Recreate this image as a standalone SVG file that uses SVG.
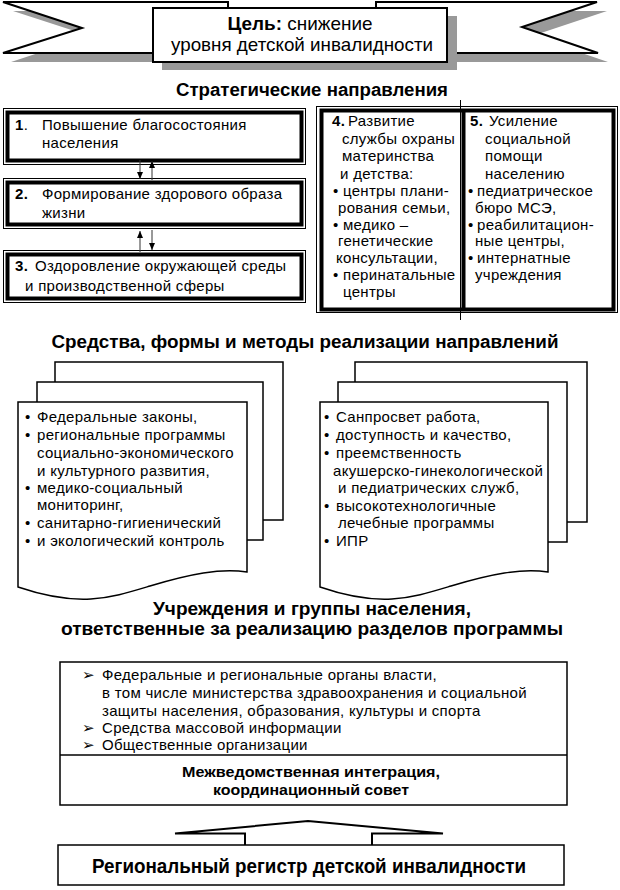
<svg xmlns="http://www.w3.org/2000/svg" width="620" height="890" viewBox="0 0 620 890">
<defs>
<style>
text{font-family:"Liberation Sans",Arial,sans-serif;fill:#000}
.t{font-size:15px;letter-spacing:0.3px}
.b{font-weight:bold}
.h{font-size:18px;font-weight:bold;text-anchor:middle}
.thin{fill:none;stroke:#000;stroke-width:1}
.thick{fill:none;stroke:#000;stroke-width:4}
.doc{fill:#fff;stroke:#000;stroke-width:1.5}
.sh{fill:#999}
.conn{stroke:#333;stroke-width:1;fill:none}
</style>
<marker id="ah" markerUnits="userSpaceOnUse" markerWidth="8" markerHeight="8" refX="7" refY="4" orient="auto">
<path d="M0,1 L7,4 L0,7 Z" fill="#000"/>
</marker>
</defs>
<rect width="620" height="890" fill="#fff"/>

<g id="goal">
<polygon class="sh" points="13,11 238,11 238,62 11,62 90,36"/>
<polygon class="sh" points="386,11 607,11 532,36 608,62 386,62"/>
<polygon points="3,2 228,2 228,53 3,53 82,28" fill="#fff" stroke="#000" stroke-width="2"/>
<polygon points="376,2 597,2 522,27 598,53 376,53" fill="#fff" stroke="#000" stroke-width="2"/>
<rect class="sh" x="162" y="16" width="295" height="54"/>
<rect x="153" y="8" width="294" height="54" fill="#fff" stroke="#000" stroke-width="2"/>
<text x="300" y="30" text-anchor="middle" font-size="19" textLength="145" lengthAdjust="spacingAndGlyphs"><tspan font-weight="bold">Цель:</tspan> снижение</text>
<text x="302" y="51" text-anchor="middle" font-size="19" textLength="262" lengthAdjust="spacingAndGlyphs">уровня детской инвалидности</text>
</g>

<text class="h" x="312" y="96" textLength="272" lengthAdjust="spacingAndGlyphs">Стратегические направления</text>

<g id="dir1">
<rect class="thin" x="3.5" y="108.5" width="302" height="56"/>
<rect class="thick" x="7.5" y="112.5" width="294" height="48"/>
<text class="t" x="15" y="130"><tspan class="b">1</tspan>.<tspan x="42">Повышение благосостояния</tspan></text>
<text class="t" x="42" y="148">населения</text>
</g>
<g id="dir2">
<rect class="thin" x="3.5" y="178.5" width="302" height="50"/>
<rect class="thick" x="7.5" y="182.5" width="294" height="42"/>
<text class="t" x="15" y="199"><tspan class="b">2.</tspan><tspan x="42">Формирование здорового образа</tspan></text>
<text class="t" x="42" y="218">жизни</text>
</g>
<g id="dir3">
<rect class="thin" x="3.5" y="250.5" width="302" height="52"/>
<rect class="thick" x="7.5" y="254.5" width="294" height="44"/>
<text class="t" x="15" y="271"><tspan class="b">3.</tspan><tspan x="35">Оздоровление окружающей среды</tspan></text>
<text class="t" x="25" y="291">и производственной сферы</text>
</g>

<g id="dir45">
<rect class="thin" x="316.5" y="106.5" width="301" height="206"/>
<rect class="thick" x="321.5" y="110.5" width="292" height="199"/>
<line x1="463.5" y1="110" x2="463.5" y2="310" stroke="#000" stroke-width="4"/>
<line x1="460.5" y1="100" x2="460.5" y2="320" stroke="#000" stroke-width="1"/>
</g>
<g id="dir4">
<text class="t" x="332" y="126"><tspan class="b">4.</tspan><tspan x="348">Развитие</tspan></text>
<text class="t" x="342" y="144">службы охраны</text>
<text class="t" x="342" y="161">материнства</text>
<text class="t" x="340" y="179">и детства:</text>
<text class="t" x="333" y="196">•<tspan x="343">центры плани-</tspan></text>
<text class="t" x="338" y="213">рования семьи,</text>
<text class="t" x="333" y="230">•<tspan x="343">медико –</tspan></text>
<text class="t" x="338" y="246">генетические</text>
<text class="t" x="336" y="263">консультации,</text>
<text class="t" x="333" y="280">•<tspan x="343">перинатальные</tspan></text>
<text class="t" x="343" y="297">центры</text>
</g>
<g id="dir5">
<text class="t" x="470" y="126"><tspan class="b">5.</tspan><tspan x="489">Усиление</tspan></text>
<text class="t" x="485" y="144">социальной</text>
<text class="t" x="485" y="161">помощи</text>
<text class="t" x="485" y="179">населению</text>
<text class="t" x="468" y="196">•<tspan x="477">педиатрическое</tspan></text>
<text class="t" x="475" y="213">бюро МСЭ,</text>
<text class="t" x="468" y="230">•<tspan x="477">реабилитацион-</tspan></text>
<text class="t" x="475" y="246">ные центры,</text>
<text class="t" x="468" y="263">•<tspan x="477">интернатные</tspan></text>
<text class="t" x="475" y="280">учреждения</text>
</g>

<g id="connectors">
<line class="conn" x1="140" y1="160" x2="140" y2="179" marker-end="url(#ah)"/>
<line class="conn" x1="152" y1="180" x2="152" y2="161" marker-end="url(#ah)"/>
<line class="conn" x1="140" y1="252" x2="140" y2="231" marker-end="url(#ah)"/>
<line class="conn" x1="152" y1="230" x2="152" y2="250" marker-end="url(#ah)"/>
<path d="M245,845 V833.5 H175 L308,821 L443,833.5 H372 V845" fill="#fff" stroke="#000" stroke-width="2"/>
</g>

<text class="h" x="305" y="348" textLength="507" lengthAdjust="spacingAndGlyphs">Средства, формы и методы реализации направлений</text>

<g id="means-left">
<rect class="doc" x="55" y="362" width="228" height="158"/>
<rect class="doc" x="37" y="382" width="226" height="158"/>
<path class="doc" d="M18,402 H247 V572 C220,568 190,574 150,586 C110,598 80,608 18,587 Z"/>
<text class="t" x="25" y="422">•<tspan x="37">Федеральные законы,</tspan></text>
<text class="t" x="25" y="440">•<tspan x="37">региональные программы</tspan></text>
<text class="t" x="37" y="458">социально-экономического</text>
<text class="t" x="37" y="476">и культурного развития,</text>
<text class="t" x="25" y="493">•<tspan x="37">медико-социальный</tspan></text>
<text class="t" x="37" y="510">мониторинг,</text>
<text class="t" x="25" y="528">•<tspan x="37">санитарно-гигиенический</tspan></text>
<text class="t" x="25" y="546">•<tspan x="37">и экологический контроль</tspan></text>
</g>
<g id="means-right">
<rect class="doc" x="355" y="362" width="232" height="160"/>
<rect class="doc" x="338" y="382" width="229" height="160"/>
<path class="doc" d="M320,402 H548 V572 C521,568 491,574 451,586 C411,598 381,608 320,587 Z"/>
<text class="t" x="324" y="422">•<tspan x="336">Санпросвет работа,</tspan></text>
<text class="t" x="324" y="440">•<tspan x="336">доступность и качество,</tspan></text>
<text class="t" x="324" y="458">•<tspan x="336">преемственность</tspan></text>
<text class="t" x="333" y="476">акушерско-гинекологической</text>
<text class="t" x="338" y="493">и педиатрических служб,</text>
<text class="t" x="324" y="511">•<tspan x="336">высокотехнологичные</tspan></text>
<text class="t" x="338" y="528">лечебные программы</text>
<text class="t" x="324" y="546">•<tspan x="336">ИПР</tspan></text>
</g>

<text class="h" x="312" y="615" textLength="318" lengthAdjust="spacingAndGlyphs">Учреждения и группы населения,</text>
<text class="h" x="312" y="635" textLength="502" lengthAdjust="spacingAndGlyphs">ответственные за реализацию разделов программы</text>

<g id="institutions">
<rect x="60" y="662" width="507" height="143" fill="#fff" stroke="#000" stroke-width="1.5"/>
<line x1="60" y1="755" x2="567" y2="755" stroke="#000" stroke-width="1.5"/>
<text class="t" x="82" y="680">➢<tspan x="102">Федеральные и региональные органы власти,</tspan></text>
<text class="t" x="102" y="698">в том числе министерства здравоохранения и социальной</text>
<text class="t" x="102" y="716">защиты населения, образования, культуры и спорта</text>
<text class="t" x="82" y="733">➢<tspan x="102">Средства массовой информации</tspan></text>
<text class="t" x="82" y="750">➢<tspan x="102">Общественные организации</tspan></text>
<text x="311" y="777" text-anchor="middle" font-size="15" font-weight="bold" textLength="258" lengthAdjust="spacingAndGlyphs">Межведомственная интеграция,</text>
<text x="311" y="795" text-anchor="middle" font-size="15" font-weight="bold" textLength="196" lengthAdjust="spacingAndGlyphs">координационный совет</text>
</g>

<g id="register">
<rect x="58" y="845" width="506" height="40" fill="#fff" stroke="#000" stroke-width="1.5"/>
<text x="309" y="873" text-anchor="middle" font-size="20" font-weight="bold" textLength="434" lengthAdjust="spacingAndGlyphs">Региональный регистр детской инвалидности</text>
</g>
</svg>
